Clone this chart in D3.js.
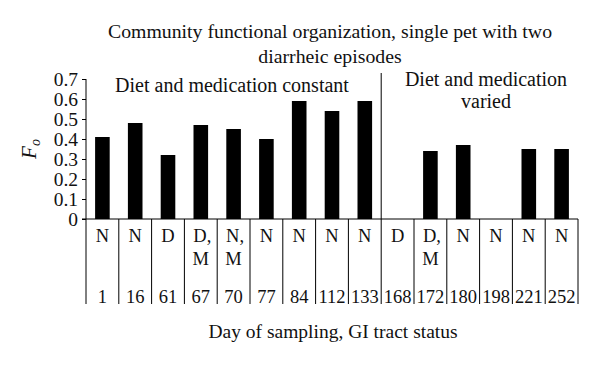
<!DOCTYPE html>
<html><head><meta charset="utf-8">
<script src="https://cdn.jsdelivr.net/npm/d3@7"></script>
<style>body{margin:0;background:#fff}svg{display:block}text{font-family:"Liberation Serif","Times New Roman",serif;fill:#111}</style>
</head><body>
<svg id="c" width="600" height="366"></svg>
<script>
const days = ["1","16","61","67","70","77","84","112","133","168","172","180","198","221","252"];
const status = ["N","N","D","D,\nM","N,\nM","N","N","N","N","D","D,\nM","N","N","N","N"];
const fo = [0.41,0.48,0.32,0.47,0.45,0.40,0.59,0.54,0.59,0,0.34,0.37,0,0.35,0.35];
const yTicks = [0,0.1,0.2,0.3,0.4,0.5,0.6,0.7];

const svg = d3.select("#c");
const x = d3.scaleBand().domain(d3.range(days.length)).range([86,578]).paddingInner(0).paddingOuter(0);
const y = d3.scaleLinear().domain([0,0.7]).range([219,79]);
const bw = x.bandwidth();

// title
svg.append("text").attr("x",330).attr("y",38).attr("text-anchor","middle").attr("font-size",19.8)
  .text("Community functional organization, single pet with two");
svg.append("text").attr("x",330).attr("y",63).attr("text-anchor","middle").attr("font-size",19.8)
  .text("diarrheic episodes");

// bars
svg.selectAll("rect.bar").data(fo).join("rect").attr("class","bar")
  .attr("x",(d,i)=>x(i)+bw/2-7.3).attr("width",14.6)
  .attr("y",d=>y(d)).attr("height",d=>y(0)-y(d)).attr("fill","#000");

// y axis
const ya = svg.append("g").attr("transform","translate(86,0)")
  .call(d3.axisLeft(y).tickValues(yTicks).tickSize(4).tickPadding(4).tickFormat(d=>d===0?"0":d3.format(".1f")(d)));
ya.select(".domain").attr("stroke","#000").attr("d","M0,79V219");
ya.selectAll(".tick line").attr("stroke","#000");
ya.selectAll(".tick text").attr("font-size",19.5).attr("fill","#111").attr("dy","0.35em");

// x axis line
svg.append("line").attr("x1",82).attr("x2",578).attr("y1",219).attr("y2",219).attr("stroke","#000");
// category separators
const bounds = d3.range(days.length+1).map(i=> i<days.length ? x(i) : x(days.length-1)+bw);
svg.selectAll("line.sep").data(bounds).join("line").attr("class","sep")
  .attr("x1",d=>d).attr("x2",d=>d).attr("y1",219).attr("y2",304).attr("stroke","#000");

// phase divider
svg.append("line").attr("x1",x(9)).attr("x2",x(9)).attr("y1",73).attr("y2",219).attr("stroke","#000");

// status labels
status.forEach((s,i)=>{
  s.split("\n").forEach((t,j)=>{
    svg.append("text").attr("x",x(i)+bw/2+(t.length>1?1.5:0)).attr("y",242+j*23).attr("text-anchor","middle")
      .attr("font-size",18.5).text(t);
  });
});
// day labels
svg.selectAll("text.day").data(days).join("text").attr("class","day")
  .attr("x",(d,i)=>x(i)+bw/2).attr("y",303).attr("text-anchor","middle").attr("font-size",18.5).text(d=>d);

// phase labels
svg.append("text").attr("x",232).attr("y",92).attr("text-anchor","middle").attr("font-size",20).text("Diet and medication constant");
svg.append("text").attr("x",486).attr("y",86).attr("text-anchor","middle").attr("font-size",20).text("Diet and medication");
svg.append("text").attr("x",486).attr("y",108).attr("text-anchor","middle").attr("font-size",20).text("varied");

// y label
const yl = svg.append("text").attr("transform","translate(36,149) rotate(-90)").attr("text-anchor","middle").attr("font-size",21);
yl.append("tspan").attr("font-style","italic").text("F");
yl.append("tspan").attr("font-style","italic").attr("font-size",14).attr("dy",4).text("o");

// x title
svg.append("text").attr("x",333).attr("y",338).attr("text-anchor","middle").attr("font-size",19.5).text("Day of sampling, GI tract status");
</script>
</body></html>
